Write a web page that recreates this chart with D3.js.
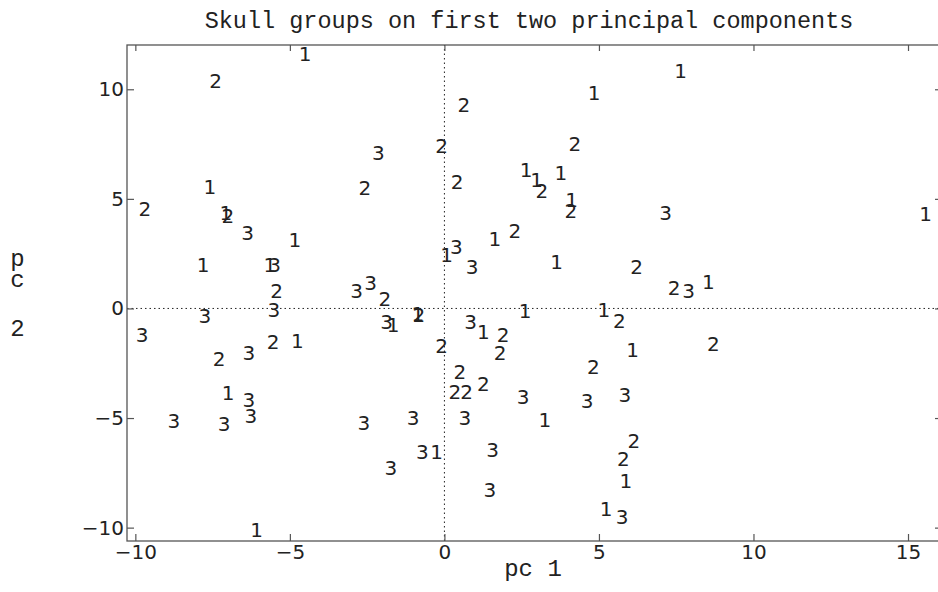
<!DOCTYPE html>
<html>
<head>
<meta charset="utf-8">
<script src="https://cdn.jsdelivr.net/npm/d3@7"></script>
<style>
  body { margin: 0; background: #fff; }
  svg { display: block; }
</style>
</head>
<body>
<div id="chart"></div>
<script>
// skull groups, scores on first two principal components
const groupLabels = ["1", "2", "3"];

const g1pc1 = [-4.51, 7.64, 4.84, -7.59, -7.07, 2.64, 2.98, 3.77, 4.12, 15.57,
  1.63, -4.84, -7.81, -5.65, 0.07, 3.63, 8.54, -1.66, -0.86, 2.61,
  5.16, 1.26, -4.76, 6.09, -7.00, 3.25, -0.25, 5.87, 5.23, -6.08];
const g1pc2 = [11.64, 10.83, 9.84, 5.55, 4.35, 6.31, 5.89, 6.19, 4.95, 4.34,
  3.17, 3.12, 2.01, 2.01, 2.47, 2.13, 1.22, -0.73, -0.26, -0.10,
  -0.04, -1.06, -1.47, -1.90, -3.87, -5.09, -6.56, -7.86, -9.12, -10.08];

const g2pc1 = [-7.40, 0.63, -0.09, 4.22, -2.57, 0.41, 3.15, -9.69, -7.01, 4.09,
  2.28, 6.22, -5.43, -1.93, 7.43, -0.83, 5.66, 1.90, -5.54, -0.09,
  1.80, 8.70, -7.29, 4.82, 0.50, 1.26, 0.34, 0.72, 6.13, 5.79];
const g2pc2 = [10.37, 9.27, 7.42, 7.53, 5.51, 5.78, 5.37, 4.53, 4.22, 4.46,
  3.53, 1.90, 0.79, 0.42, 0.94, -0.30, -0.57, -1.18, -1.52, -1.72,
  -2.02, -1.59, -2.28, -2.66, -2.89, -3.42, -3.80, -3.80, -6.04, -6.88];

const g3pc1 = [-2.14, -6.37, 7.16, 0.39, -5.49, 0.90, -2.84, -2.39, 7.90, -7.75,
  -5.52, -1.87, 0.85, -9.78, -6.33, -6.33, -8.75, -7.13, -6.26, -2.61,
  -1.01, 2.55, 4.62, 5.84, 0.66, -0.71, -1.73, 1.56, 1.47, 5.75];
const g3pc2 = [7.10, 3.43, 4.38, 2.81, 2.01, 1.88, 0.81, 1.15, 0.79, -0.33,
  -0.07, -0.61, -0.63, -1.21, -2.02, -4.15, -5.12, -5.24, -4.91, -5.20,
  -4.97, -4.03, -4.22, -3.95, -5.01, -6.56, -7.29, -6.46, -8.28, -9.50];

const xTicks = [-10, -5, 0, 5, 10, 15];
const yTicks = [-10, -5, 0, 5, 10];

const width = 938, height = 592;
const margin = { top: 45, right: -4, bottom: 51, left: 127 };

const svg = d3.select("#chart").append("svg")
  .attr("width", width)
  .attr("height", height);

const x = d3.scaleLinear()
  .domain([-10.27, 16.10])
  .range([margin.left, width - margin.right]);

const y = d3.scaleLinear()
  .domain([-10.61, 12.02])
  .range([height - margin.bottom, margin.top]);

const points = [
  ...g1pc1.map((v, i) => ({ g: groupLabels[0], pc1: v, pc2: g1pc2[i] })),
  ...g2pc1.map((v, i) => ({ g: groupLabels[1], pc1: v, pc2: g2pc2[i] })),
  ...g3pc1.map((v, i) => ({ g: groupLabels[2], pc1: v, pc2: g3pc2[i] }))
];

const sans = "DejaVu Sans, sans-serif";
const mono = "Courier New, Liberation Mono, monospace";
const frameColor = "#555";

// reference lines at zero
svg.append("line")
  .attr("x1", x.range()[0]).attr("x2", x.range()[1])
  .attr("y1", y(0)).attr("y2", y(0))
  .attr("stroke", "#222").attr("stroke-width", 1)
  .attr("stroke-dasharray", "1.5,3");

svg.append("line")
  .attr("x1", x(0)).attr("x2", x(0))
  .attr("y1", y.range()[0]).attr("y2", y.range()[1])
  .attr("stroke", "#222").attr("stroke-width", 1)
  .attr("stroke-dasharray", "1.5,3");

// axes, ticks pointing inward
function styleAxis(g) {
  g.select(".domain").remove();
  g.selectAll(".tick line").attr("stroke", frameColor).attr("stroke-width", 1.2);
  g.selectAll(".tick text")
    .attr("fill", "#222")
    .style("font-family", sans)
    .style("font-size", "20px");
}

svg.append("g")
  .attr("transform", `translate(0, ${y.range()[0]})`)
  .call(d3.axisBottom(x).tickValues(xTicks).tickSizeInner(-7).tickSizeOuter(0).tickPadding(4))
  .call(styleAxis);

svg.append("g")
  .attr("transform", `translate(0, ${y.range()[1]})`)
  .call(d3.axisTop(x).tickValues(xTicks).tickSizeInner(-6).tickSizeOuter(0).tickFormat(""))
  .call(styleAxis);

svg.append("g")
  .attr("transform", `translate(${x.range()[0]}, 0)`)
  .call(d3.axisLeft(y).tickValues(yTicks).tickSizeInner(-7).tickSizeOuter(0).tickPadding(3))
  .call(styleAxis);

svg.append("g")
  .attr("transform", `translate(${x.range()[1]}, 0)`)
  .call(d3.axisRight(y).tickValues(yTicks).tickSizeInner(-7).tickSizeOuter(0).tickFormat(""))
  .call(styleAxis);

// frame
svg.append("rect")
  .attr("x", x.range()[0])
  .attr("y", y.range()[1])
  .attr("width", x.range()[1] - x.range()[0])
  .attr("height", y.range()[0] - y.range()[1])
  .attr("fill", "none")
  .attr("stroke", frameColor)
  .attr("stroke-width", 1.3);

// group numbers as plotting symbols
svg.selectAll("text.pt")
  .data(points)
  .enter()
  .append("text")
  .attr("class", "pt")
  .attr("x", d => x(d.pc1))
  .attr("y", d => y(d.pc2))
  .attr("dy", "0.36em")
  .attr("text-anchor", "middle")
  .attr("fill", "#222")
  .style("font-family", sans)
  .style("font-size", "20px")
  .text(d => d.g);

// title and axis labels
svg.append("text")
  .attr("x", 529)
  .attr("y", 28)
  .attr("text-anchor", "middle")
  .attr("fill", "#222")
  .style("font-family", mono)
  .style("font-size", "23.5px")
  .text("Skull groups on first two principal components");

svg.append("text")
  .attr("x", 533)
  .attr("y", 576)
  .attr("text-anchor", "middle")
  .attr("fill", "#222")
  .style("font-family", mono)
  .style("font-size", "24px")
  .text("pc 1");

const yLabel = svg.append("text")
  .attr("text-anchor", "middle")
  .attr("fill", "#222")
  .style("font-family", mono)
  .style("font-size", "24px");

[["p", 266], ["c", 287], ["2", 336]].forEach(([ch, by]) => {
  yLabel.append("tspan").attr("x", 17.5).attr("y", by).text(ch);
});
</script>
</body>
</html>
